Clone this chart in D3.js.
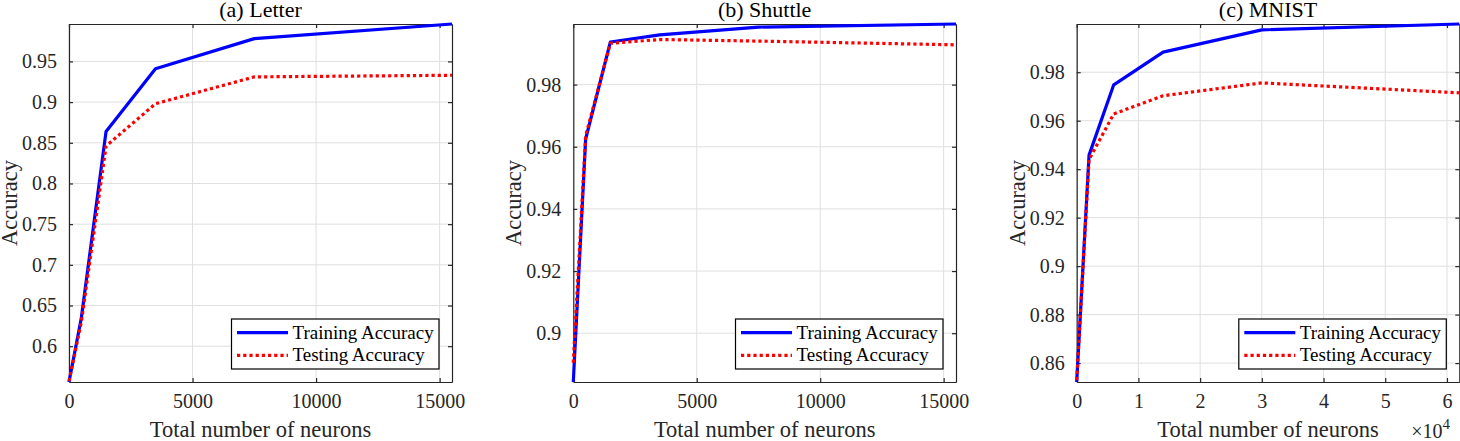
<!DOCTYPE html>
<html>
<head>
<meta charset="utf-8">
<script src="https://cdn.jsdelivr.net/npm/d3@7"></script>
<style>
  body { margin: 0; background: #fff; }
  text { font-family: "Liberation Serif", "Times New Roman", serif; fill: #262626; }
</style>
</head>
<body>
<div id="chart"></div>
<script>
// neurons on the x axis, accuracy on the y axis
var letterX = [0, 500, 1500, 3500, 7500, 15500]
var letterTrain = [0.556, 0.635, 0.864, 0.941, 0.978, 0.996]
var letterTest = [0.557, 0.630, 0.846, 0.898, 0.931, 0.933]

var shuttleX = [0, 500, 1500, 3500, 7500, 15500]
var shuttleTrain = [0.8843, 0.9625, 0.9937, 0.9960, 0.9985, 0.9995]
var shuttleTest = [0.8905, 0.9635, 0.9933, 0.9945, 0.9940, 0.9928]

var mnistX = [0, 2000, 6000, 14000, 30000, 62000]
var mnistTrain = [0.8522, 0.9458, 0.9748, 0.9883, 0.9975, 0.9999]
var mnistTest = [0.8530, 0.9440, 0.9628, 0.9703, 0.9756, 0.9715]

var letterYTicks = [0.6, 0.65, 0.7, 0.75, 0.8, 0.85, 0.9, 0.95]
var shuttleYTicks = [0.9, 0.92, 0.94, 0.96, 0.98]
var mnistYTicks = [0.86, 0.88, 0.9, 0.92, 0.94, 0.96, 0.98]
var letterXTicks = [0, 5000, 10000, 15000]
var mnistXTicks = [0, 10000, 20000, 30000, 40000, 50000, 60000]

var seriesNames = ["Training Accuracy", "Testing Accuracy"]

var panels = [
  {title: "(a) Letter", x: letterX, train: letterTrain, test: letterTest,
   yTicks: letterYTicks, xTicks: letterXTicks, left: 69, right: 452, scaled: false},
  {title: "(b) Shuttle", x: shuttleX, train: shuttleTrain, test: shuttleTest,
   yTicks: shuttleYTicks, xTicks: letterXTicks, left: 573.3, right: 956, scaled: false},
  {title: "(c) MNIST", x: mnistX, train: mnistTrain, test: mnistTest,
   yTicks: mnistYTicks, xTicks: mnistXTicks, left: 1076.7, right: 1459.3, scaled: true}
]

// (window.top is read only, so not "top")
var plotTop = 24, plotBottom = 382
var tickSize = 20, labelSize = 22.5, legendSize = 19

var svg = d3.select("#chart").append("svg")
  .attr("width", 1460)
  .attr("height", 441)

panels.forEach(function(p) {
  var allY = p.train.concat(p.test)
  var xScale = d3.scaleLinear()
    .domain([0, d3.max(p.x)])
    .range([p.left, p.right])
  var yScale = d3.scaleLinear()
    .domain(d3.extent(allY))
    .range([plotBottom, plotTop])

  var g = svg.append("g")

  // grid
  g.selectAll(".gx").data(p.xTicks).enter().append("line")
    .attr("x1", function(d) { return xScale(d) })
    .attr("x2", function(d) { return xScale(d) })
    .attr("y1", plotTop).attr("y2", plotBottom)
    .style("stroke", "#dfdfdf").style("stroke-width", 1)
  g.selectAll(".gy").data(p.yTicks).enter().append("line")
    .attr("x1", p.left).attr("x2", p.right)
    .attr("y1", function(d) { return yScale(d) })
    .attr("y2", function(d) { return yScale(d) })
    .style("stroke", "#dfdfdf").style("stroke-width", 1)

  // axes, ticks pointing inward
  var fmtX = p.scaled ? function(d) { return d / 10000 } : d3.format("d")
  var fmtY = function(d) { return String(+d.toFixed(3)) }

  var bottomAxis = d3.axisBottom(xScale).tickValues(p.xTicks).tickSizeInner(-4).tickSizeOuter(0)
    .tickPadding(12).tickFormat(fmtX)
  var topAxis = d3.axisTop(xScale).tickValues(p.xTicks).tickSizeInner(-4).tickSizeOuter(0)
    .tickFormat("")
  var leftAxis = d3.axisLeft(yScale).tickValues(p.yTicks).tickSizeInner(-4).tickSizeOuter(0)
    .tickPadding(12).tickFormat(fmtY)
  var rightAxis = d3.axisRight(yScale).tickValues(p.yTicks).tickSizeInner(-4).tickSizeOuter(0)
    .tickFormat("")

  g.append("g").attr("transform", "translate(0," + plotBottom + ")").call(bottomAxis)
  g.append("g").attr("transform", "translate(0," + plotTop + ")").call(topAxis)
  g.append("g").attr("transform", "translate(" + p.left + ",0)").call(leftAxis)
  g.append("g").attr("transform", "translate(" + p.right + ",0)").call(rightAxis)

  g.selectAll(".domain").style("stroke", "#262626").style("stroke-width", 1.2)
  g.selectAll(".tick line").style("stroke", "#262626").style("stroke-width", 1.2)
  g.selectAll(".tick text")
    .style("font-family", "'Liberation Serif', serif")
    .style("font-size", tickSize + "px")
    .style("fill", "#262626")

  // lines
  var line = d3.line()
    .x(function(d) { return xScale(d[0]) })
    .y(function(d) { return yScale(d[1]) })

  g.append("path")
    .datum(d3.zip(p.x, p.train))
    .attr("d", line)
    .style("fill", "none")
    .style("stroke", "#0000ff")
    .style("stroke-width", 3.2)
    .style("stroke-linejoin", "round")

  g.append("path")
    .datum(d3.zip(p.x, p.test))
    .attr("d", line)
    .style("fill", "none")
    .style("stroke", "#ff0000")
    .style("stroke-width", 3.2)
    .style("stroke-dasharray", "3.2,3")

  // titles and labels
  var cx = (p.left + p.right) / 2
  g.append("text")
    .attr("x", cx).attr("y", 17)
    .attr("text-anchor", "middle")
    .style("font-size", "22px")
    .style("fill", "#000")
    .text(p.title)

  g.append("text")
    .attr("x", cx).attr("y", 437)
    .attr("text-anchor", "middle")
    .style("font-size", labelSize + "px")
    .text("Total number of neurons")

  g.append("text")
    .attr("transform", "translate(" + (p.left - 52) + "," + ((plotTop + plotBottom) / 2) + ") rotate(-90)")
    .attr("text-anchor", "middle")
    .style("font-size", labelSize + "px")
    .text("Accuracy")

  if (p.scaled) {
    var ex = g.append("text")
      .attr("x", 1450).attr("y", 438)
      .attr("text-anchor", "end")
      .style("font-size", tickSize + "px")
    ex.append("tspan").text("\u00d710")
    ex.append("tspan").attr("dy", -9).style("font-size", "15px").text("4")
  }

  // legend
  var lx = p.right - 220.5, ly = 319, lw = 207.5, lh = 50
  g.append("rect")
    .attr("x", lx).attr("y", ly).attr("width", lw).attr("height", lh)
    .style("fill", "#fff").style("stroke", "#000").style("stroke-width", 1.2)
  seriesNames.forEach(function(name, i) {
    var yy = ly + 13.7 + i * 22.6
    g.append("line")
      .attr("x1", lx + 5.5).attr("x2", lx + 56.5)
      .attr("y1", yy).attr("y2", yy)
      .style("stroke", i == 0 ? "#0000ff" : "#ff0000")
      .style("stroke-width", 3.2)
      .style("stroke-dasharray", i == 0 ? null : "3.2,3")
    g.append("text")
      .attr("x", lx + 61).attr("y", yy + 6)
      .style("font-size", legendSize + "px")
      .style("fill", "#000")
      .text(name)
  })
})
</script>
</body>
</html>
